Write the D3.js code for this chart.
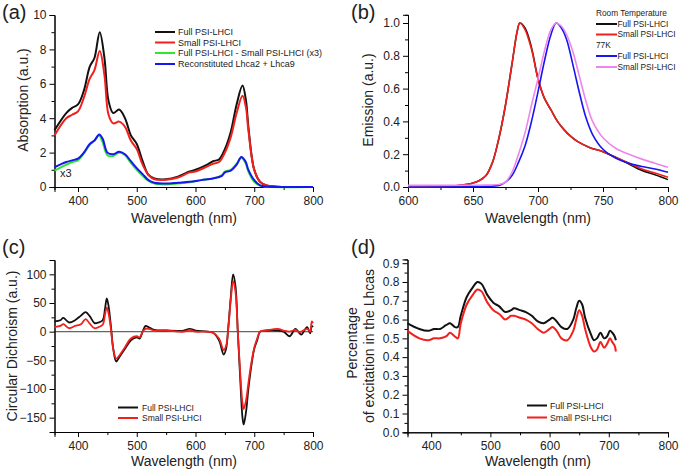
<!DOCTYPE html>
<html><head><meta charset="utf-8">
<script src="https://cdn.jsdelivr.net/npm/d3@7/dist/d3.min.js"></script>
<style>
body{margin:0;background:#fff;}
svg{font-family:"Liberation Sans",Arial,sans-serif;}
</style></head>
<body><svg id="c" width="683" height="470"></svg>
<script>
// ---------- Panel (a): absorption ----------
const absWl = [360,380,390,400,410,420,428,437,445,452,460,470,480,490,500,510,520,530,550,570,590,600,620,630,640,650,660,670,680,686,690,700,710,720,740,800];
const absFull = [3.3,4.3,4.6,4.8,5.6,7.0,7.5,9.0,7.5,5.0,4.3,4.5,4.0,3.0,2.5,1.5,0.7,0.5,0.45,0.6,0.9,1.0,1.3,1.5,1.6,2.2,3.2,4.8,5.9,5.0,3.5,1.0,0.3,0.1,0.02,0];
const absSmall = [3.0,4.0,4.2,4.4,5.2,6.3,6.8,7.9,6.5,4.2,3.7,3.8,3.5,2.7,2.2,1.3,0.7,0.45,0.42,0.55,0.85,0.9,1.2,1.35,1.45,2.0,2.9,4.3,5.3,4.6,3.3,1.0,0.3,0.1,0.02,0];
const absWl2 = [360,380,390,400,410,420,428,436,442,450,460,470,480,490,500,510,520,530,550,570,590,610,630,645,650,660,670,678,685,690,700,710,720,800];
const absDiff = [0.95,1.3,1.45,1.55,1.95,2.45,2.7,3.0,2.6,1.85,1.8,2.0,1.85,1.4,1.0,0.65,0.35,0.2,0.15,0.2,0.28,0.4,0.5,0.7,0.9,1.0,1.35,1.7,1.4,0.9,0.3,0.08,0.02,0];
const absRecon = [1.15,1.45,1.55,1.65,2.0,2.5,2.7,3.05,2.8,2.0,1.9,2.05,1.9,1.5,1.1,0.75,0.4,0.25,0.2,0.25,0.3,0.4,0.5,0.65,0.85,0.95,1.3,1.75,1.5,1.0,0.4,0.1,0.03,0];
const absNames = ["Full PSI-LHCI","Small PSI-LHCI","Full PSI-LHCI - Small PSI-LHCI (x3)","Reconstituted Lhca2 + Lhca9"];

// ---------- Panel (b): emission ----------
const rtWl = [600,630,640,650,655,660,665,670,675,680,684,686,690,695,700,705,710,715,720,725,730,740,750,760,770,780,790,800];
const rtFull = [0,0.003,0.01,0.025,0.04,0.07,0.15,0.3,0.5,0.75,0.95,1.0,0.97,0.85,0.66,0.54,0.47,0.4,0.35,0.31,0.28,0.24,0.215,0.18,0.14,0.1,0.075,0.045];
const rtSmall = [0,0.003,0.01,0.025,0.04,0.07,0.15,0.3,0.5,0.75,0.95,1.0,0.96,0.84,0.66,0.54,0.47,0.4,0.35,0.31,0.28,0.24,0.215,0.18,0.145,0.11,0.085,0.06];
const lkWl = [600,660,670,675,680,685,690,695,700,705,710,714,718,722,727,732,737,742,750,760,770,780,790,800];
const lkFull = [0,0.004,0.01,0.03,0.07,0.15,0.25,0.4,0.58,0.77,0.93,1.0,0.97,0.9,0.74,0.57,0.42,0.32,0.23,0.175,0.145,0.125,0.11,0.09];
const lkSmall = [0.01,0.012,0.015,0.03,0.09,0.2,0.33,0.5,0.66,0.83,0.96,1.0,0.98,0.93,0.82,0.67,0.52,0.4,0.3,0.235,0.2,0.17,0.145,0.12];
const emNames = ["Room Temperature","Full PSI-LHCI","Small PSI-LHCI","77K","Full PSI-LHCI","Small PSI-LHCI"];

// ---------- Panel (c): circular dichroism ----------
const cdWl = [360,370,375,385,395,405,413,420,428,435,442,446,449,452,456,460,465,470,480,490,500,505,510,515,520,530,550,580,590,600,620,630,640,648,652,656,660,664,668,672,676,680,682,686,690,695,700,705,710,720,740,750,760,770,775,780,790,795,798,800];
const cdFull = [18,20,24,16,20,28,34,27,15,16,20,40,58,45,10,-30,-52,-45,-30,-15,-10,-12,0,10,8,3,2,2,5,2,0,-2,-15,-40,-30,10,60,100,80,0,-80,-150,-162,-140,-100,-60,-30,-15,0,2,2,0,-8,5,0,-5,8,-3,10,8];
const cdSmall = [8,10,13,6,10,13,22,14,6,8,12,30,42,32,5,-30,-47,-42,-27,-12,-8,-10,0,5,5,2,2,0,3,0,0,-2,-12,-32,-25,8,55,88,70,0,-70,-125,-135,-120,-90,-55,-28,-12,0,2,5,2,0,3,0,0,5,0,18,15];
const cdNames = ["Full PSI-LHCI","Small PSI-LHCI"];

// ---------- Panel (d): excitation percentage ----------
const exWl = [360,380,395,405,415,425,432,440,445,450,460,470,478,485,495,505,515,525,535,540,550,560,570,580,590,600,605,612,620,630,640,645,650,655,660,670,675,680,686,692,697,702,706,710,712];
const exFull = [0.58,0.55,0.54,0.55,0.55,0.57,0.58,0.56,0.56,0.62,0.72,0.77,0.80,0.79,0.73,0.69,0.67,0.64,0.65,0.66,0.65,0.64,0.62,0.59,0.58,0.60,0.61,0.59,0.56,0.55,0.60,0.66,0.70,0.68,0.61,0.52,0.49,0.50,0.53,0.50,0.51,0.54,0.53,0.51,0.49];
const exSmall = [0.54,0.50,0.49,0.50,0.50,0.51,0.53,0.51,0.50,0.58,0.68,0.73,0.76,0.75,0.69,0.65,0.63,0.60,0.62,0.62,0.61,0.60,0.58,0.55,0.53,0.55,0.56,0.54,0.50,0.49,0.54,0.60,0.65,0.62,0.55,0.45,0.43,0.44,0.48,0.45,0.47,0.50,0.48,0.46,0.43];
const exNames = ["Full PSI-LHCI","Small PSI-LHCI"];

// ---------- tick labels ----------
const xTicksWide = [400,500,600,700,800];
const xMinorWide = [450,550,650,750];
const xTicksB = [600,650,700,750,800];
const xMinorB = [625,675,725,775];
const yTicksA = [0,2,4,6,8,10];
const yTicksB = [0,0.2,0.4,0.6,0.8,1.0];
const yTicksC = [-150,-100,-50,0,50,100];
const yTicksD = [0,0.1,0.2,0.3,0.4,0.5,0.6,0.7,0.8,0.9];

const COL = {black:"#111111", red:"#f2201c", green:"#2fe52f", blue:"#1616f0", pink:"#ee85ee"};
const svg = d3.select("#c");

function axes(x, y, xt, xm, yt, ym, yfmt){
  const g = svg.append("g");
  const y0 = y.range()[0], x0 = x.range()[0];
  g.append("g").attr("transform",`translate(0,${y0})`)
    .call(d3.axisBottom(x).tickValues(xm).tickSize(3).tickFormat(""));
  g.append("g").attr("transform",`translate(0,${y0})`)
    .call(d3.axisBottom(x).tickValues(xt).tickSize(5).tickPadding(4).tickFormat(d3.format("d")));
  g.append("g").attr("transform",`translate(${x0},0)`)
    .call(d3.axisLeft(y).tickValues(ym).tickSize(3).tickFormat(""));
  g.append("g").attr("transform",`translate(${x0},0)`)
    .call(d3.axisLeft(y).tickValues(yt).tickSize(5).tickPadding(3).tickFormat(yfmt));
  g.selectAll("path.domain").attr("stroke","#000").attr("stroke-width",1);
  g.selectAll(".tick line").attr("stroke","#000");
  g.selectAll(".tick text").attr("font-size",12).attr("fill","#222")
    .attr("font-family","Liberation Sans, Arial, sans-serif");
  return g;
}
function line(x, y, xs, ys, color, w){
  const pts = xs.map((d,i)=>[d, ys[i]]);
  svg.append("path").datum(pts)
    .attr("fill","none").attr("stroke",color).attr("stroke-width",w)
    .attr("stroke-linejoin","round")
    .attr("d", d3.line().x(d=>x(d[0])).y(d=>y(d[1])).curve(d3.curveCatmullRom.alpha(0.5)));
}
function text(t, x, y, size, opts={}){
  const el = svg.append("text").attr("x",x).attr("y",y).attr("font-size",size).attr("fill","#222").text(t);
  if(opts.anchor) el.attr("text-anchor",opts.anchor);
  if(opts.rotate) el.attr("transform",`rotate(-90,${x},${y})`);
  return el;
}
function legend(x1, x2, tx, size, rows){
  rows.forEach(r=>{
    if(r.color) svg.append("line").attr("x1",x1).attr("x2",x2).attr("y1",r.y).attr("y2",r.y)
      .attr("stroke",r.color).attr("stroke-width",2);
    text(r.label, r.color?tx:x1, r.y+size*0.36, size);
  });
}

// ===== (a) =====
{
  const x = d3.scaleLinear().domain([360,800]).range([54.5,313]);
  const y = d3.scaleLinear().domain([0,10]).range([187,15]);
  axes(x,y,xTicksWide,xMinorWide,yTicksA,[1,3,5,7,9],d3.format("d"));
  line(x,y,absWl,absFull,COL.black,2);
  line(x,y,absWl,absSmall,COL.red,2);
  line(x,y,absWl2,absDiff,COL.green,2);
  line(x,y,absWl2,absRecon,COL.blue,2);
  legend(155,175,178,9,[
    {label:absNames[0],color:COL.black,y:32},
    {label:absNames[1],color:COL.red,y:42.5},
    {label:absNames[2],color:COL.green,y:53},
    {label:absNames[3],color:COL.blue,y:64}]);
  text("x3",60,177,11);
  text("Wavelength (nm)",184,223,14,{anchor:"middle"});
  text("Absorption (a.u.)",28,100,14,{anchor:"middle",rotate:true});
  text("(a)",2,19,20);
}
// ===== (b) =====
{
  const x = d3.scaleLinear().domain([600,800]).range([408,668]);
  const y = d3.scaleLinear().domain([0,1.05]).range([187,187-1.05*164]);
  axes(x,y,xTicksB,xMinorB,yTicksB,[0.1,0.3,0.5,0.7,0.9],d3.format(".1f"));
  line(x,y,rtWl,rtFull,COL.black,1.6);
  line(x,y,rtWl,rtSmall,COL.red,1.6);
  line(x,y,lkWl,lkFull,COL.blue,1.6);
  line(x,y,lkWl,lkSmall,COL.pink,1.6);
  legend(596,617,617.5,8.3,[
    {label:emNames[0],y:13},
    {label:emNames[1],color:COL.black,y:24},
    {label:emNames[2],color:COL.red,y:34.5},
    {label:emNames[3],y:45},
    {label:emNames[4],color:COL.blue,y:56},
    {label:emNames[5],color:COL.pink,y:67}]);
  text("Wavelength (nm)",538,223,14,{anchor:"middle"});
  text("Emission (a.u.)",373,100,14,{anchor:"middle",rotate:true});
  text("(b)",351,19,20);
}
// ===== (c) =====
{
  const x = d3.scaleLinear().domain([360,800]).range([54.5,313]);
  const y = d3.scaleLinear().domain([-175,125]).range([432,260]);
  svg.append("line").attr("x1",x(360)).attr("x2",x(800)).attr("y1",y(0)).attr("y2",y(0))
    .attr("stroke","#666").attr("stroke-width",1.2);
  axes(x,y,xTicksWide,xMinorWide,yTicksC,[-125,-75,-25,25,75],d3.format("d"));
  line(x,y,cdWl,cdFull,COL.black,1.8);
  line(x,y,cdWl,cdSmall,COL.red,1.8);
  legend(118,138,142,8.5,[
    {label:cdNames[0],color:COL.black,y:407.5},
    {label:cdNames[1],color:COL.red,y:418}]);
  text("Wavelength (nm)",184,466,14,{anchor:"middle"});
  text("Circular Dichroism (a.u.)",17,346,14,{anchor:"middle",rotate:true});
  text("(c)",2,254,20);
}
// ===== (d) =====
{
  const x = d3.scaleLinear().domain([360,800]).range([407.5,668]);
  const y = d3.scaleLinear().domain([0,0.92]).range([432.3,432.3-0.92*187.9]);
  axes(x,y,xTicksWide,xMinorWide,yTicksD,[0.05,0.15,0.25,0.35,0.45,0.55,0.65,0.75,0.85],d3.format(".1f"));
  line(x,y,exWl,exFull,COL.black,2);
  line(x,y,exWl,exSmall,COL.red,2);
  legend(527,547,550,8.8,[
    {label:exNames[0],color:COL.black,y:405.5},
    {label:exNames[1],color:COL.red,y:417.5}]);
  text("Wavelength (nm)",538,466,14,{anchor:"middle"});
  text("Percentage",357,343,14,{anchor:"middle",rotate:true});
  text("of excitation in the Lhcas",374,346,14,{anchor:"middle",rotate:true});
  text("(d)",351,254,20);
}
</script></body></html>
